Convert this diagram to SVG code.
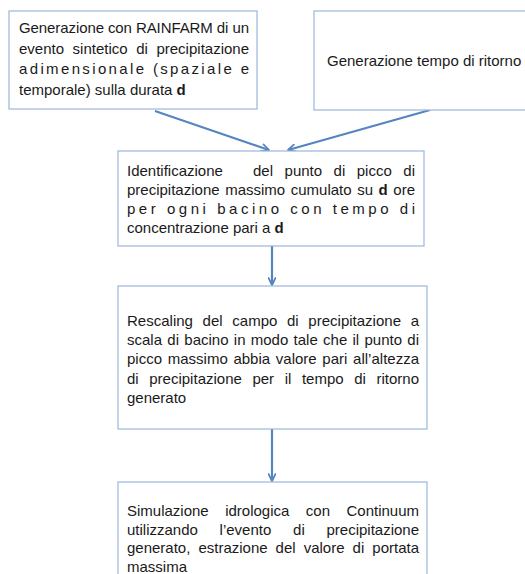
<svg xmlns="http://www.w3.org/2000/svg" width="525" height="574" viewBox="0 0 525 574">
<style>
.box{fill:#fff;stroke:#9BB7DB;stroke-width:1.2}
.t{font-family:"Liberation Sans",Arial,sans-serif;font-size:15px;fill:#1a1a1a}
.b{font-weight:bold}
.c{stroke:#5585C0;stroke-width:2.2;fill:none}
</style>
<defs>
<marker id="ah" viewBox="0 0 10 10" refX="9" refY="5" markerWidth="4" markerHeight="4" orient="auto" markerUnits="strokeWidth">
<path d="M1,1 L9,5 L1,9" fill="none" stroke="#5585C0" stroke-width="2" stroke-linecap="round" stroke-linejoin="round"/>
</marker>
</defs>
<rect width="525" height="574" fill="#fff"/>
<g id="connectors">
<line class="c" x1="155" y1="111" x2="269" y2="150" marker-end="url(#ah)"/>
<line class="c" x1="430" y1="110" x2="288" y2="150" marker-end="url(#ah)"/>
<line class="c" x1="272" y1="246" x2="272" y2="285" marker-end="url(#ah)"/>
<line class="c" x1="272" y1="429" x2="272" y2="481" marker-end="url(#ah)"/>
</g>
<g id="n1">
<rect class="box" x="9" y="11" width="248" height="98"/>
<text class="t" x="19" y="33" textLength="230">Generazione con RAINFARM di un</text>
<text class="t" x="19" y="53.5" textLength="230" word-spacing="4.4">evento sintetico di precipitazione</text>
<text class="t" x="19" y="74" textLength="230">adimensionale (spaziale e</text>
<text class="t" x="19" y="94.5">temporale) sulla durata <tspan class="b">d</tspan></text>
</g>
<g id="n2">
<rect class="box" x="314" y="11" width="220" height="99"/>
<text class="t" x="327" y="66">Generazione tempo di ritorno</text>
</g>
<g id="n3">
<rect class="box" x="118" y="151" width="306" height="95"/>
<text class="t" x="127" y="176">Identificazione</text>
<text class="t" x="253" y="176" textLength="162" word-spacing="7.3">del punto di picco di</text>
<text class="t" x="127" y="195" textLength="288" word-spacing="1.4">precipitazione massimo cumulato su <tspan class="b">d</tspan> ore</text>
<text class="t" x="127" y="214" textLength="288">per ogni bacino con tempo di</text>
<text class="t" x="127" y="233">concentrazione pari a <tspan class="b">d</tspan></text>
</g>
<g id="n4">
<rect class="box" x="118" y="286" width="309" height="143"/>
<text class="t" x="127" y="326" textLength="292" word-spacing="5.5">Rescaling del campo di precipitazione a</text>
<text class="t" x="127" y="345" textLength="292" word-spacing="1.1">scala di bacino in modo tale che il punto di</text>
<text class="t" x="127" y="364" textLength="292" word-spacing="1.5">picco massimo abbia valore pari all’altezza</text>
<text class="t" x="127" y="384" textLength="292" word-spacing="6.4">di precipitazione per il tempo di ritorno</text>
<text class="t" x="127" y="403">generato</text>
</g>
<g id="n5">
<rect class="box" x="118" y="482" width="309" height="100"/>
<text class="t" x="127" y="516" textLength="292" word-spacing="12.3">Simulazione idrologica con Continuum</text>
<text class="t" x="127" y="534.5" textLength="292" word-spacing="17.6">utilizzando l’evento di precipitazione</text>
<text class="t" x="127" y="553" textLength="292" word-spacing="3.9">generato, estrazione del valore di portata</text>
<text class="t" x="127" y="571.5">massima</text>
</g>
</svg>
